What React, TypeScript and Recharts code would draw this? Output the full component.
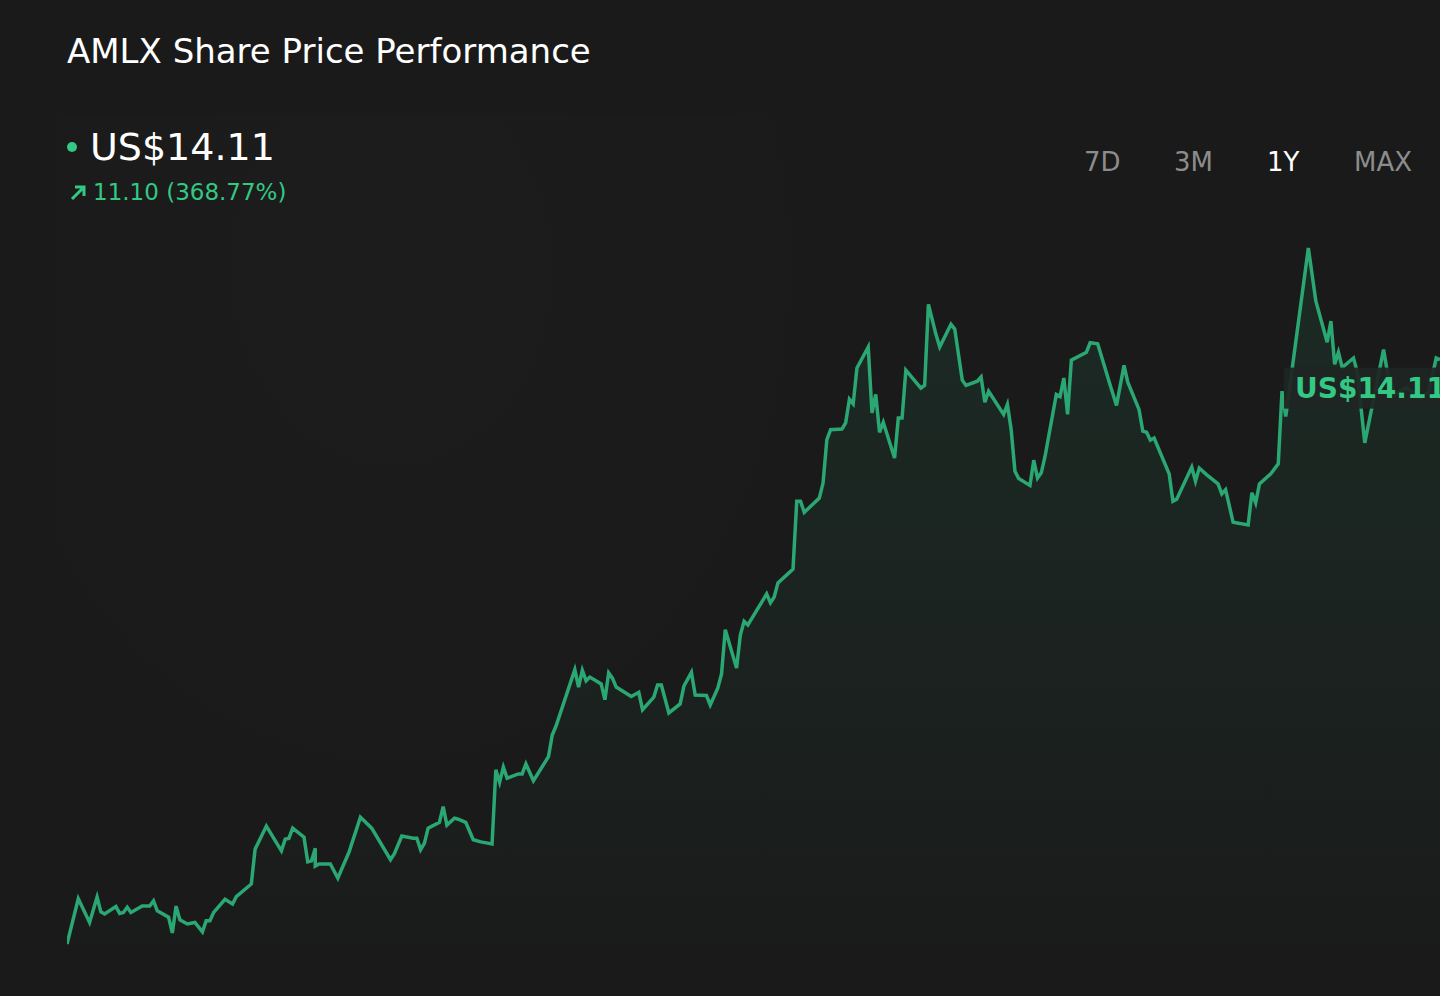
import { Area, AreaChart, ReferenceDot, XAxis, YAxis } from 'recharts';

const TITLE = 'AMLX Share Price Performance';
const LAST_PRICE = 'US$14.11';
const CHANGE_TEXT = '11.10 (368.77%)';
const RANGES = ['7D', '3M', '1Y', 'MAX'];
const ACTIVE_RANGE = '1Y';

// day offset within the 1Y window
const DAYS = [
  0, 3, 6, 8, 9, 10, 13, 14, 15, 16, 17, 20, 22, 23, 24, 27, 28, 29, 30, 32,
  34, 36, 37, 38, 39, 42, 44, 45, 49, 50, 53, 57, 58, 59, 60, 63, 64, 65, 66, 66,
  67, 70, 72, 73, 75, 78, 81, 86, 87, 89, 92, 93, 94, 95, 96, 99, 100, 101, 103, 104,
  106, 108, 110, 113, 114, 115, 116, 117, 120, 121, 122, 124, 128, 129, 130, 135, 136, 137, 138, 139,
  142, 143, 144, 145, 146, 150, 152, 153, 156, 157, 158, 160, 163, 164, 166, 167, 170, 171, 173, 174,
  175, 178, 179, 180, 181, 186, 187, 188, 189, 193, 194, 195, 196, 200, 201, 202, 203, 206, 207, 208,
  209, 210, 213, 214, 215, 216, 217, 220, 221, 222, 223, 225, 227, 228, 229, 231, 232, 235, 236, 238,
  239, 242, 243, 244, 245, 249, 250, 251, 252, 253, 256, 257, 258, 259, 260, 263, 264, 265, 266, 267,
  271, 272, 274, 277, 279, 281, 282, 285, 286, 287, 288, 289, 293, 294, 295, 299, 300, 301, 303, 306,
  307, 308, 310, 314, 315, 316, 317, 320, 322, 323, 324, 330, 332, 335, 336, 337, 338, 339, 342, 343,
  345, 350, 351, 353, 356, 360, 362, 364, 365
];

// close price, US$
const PRICES = [
  3.01, 3.87, 3.42, 3.9, 3.62, 3.58, 3.72, 3.59, 3.61, 3.71, 3.61, 3.73, 3.73, 3.83, 3.64, 3.52, 3.22, 3.73, 3.47, 3.39,
  3.42, 3.24, 3.45, 3.45, 3.61, 3.86, 3.77, 3.91, 4.15, 4.81, 5.25, 4.78, 5.0, 5.02, 5.21, 5.04, 4.57, 4.59, 4.83, 4.49,
  4.53, 4.53, 4.26, 4.43, 4.76, 5.42, 5.21, 4.61, 4.72, 5.06, 5.02, 5.02, 4.8, 4.92, 5.21, 5.32, 5.62, 5.27, 5.4, 5.38,
  5.32, 4.99, 4.95, 4.91, 6.32, 6.08, 6.37, 6.16, 6.24, 6.24, 6.43, 6.11, 6.57, 6.98, 7.15, 8.22, 7.89, 8.21, 8.01, 8.08,
  7.95, 7.65, 8.16, 8.06, 7.89, 7.71, 7.79, 7.46, 7.7, 7.93, 7.93, 7.4, 7.57, 7.91, 8.17, 7.74, 7.73, 7.55, 7.87, 8.14,
  8.98, 8.25, 8.88, 9.14, 9.07, 9.66, 9.49, 9.6, 9.87, 10.13, 11.42, 11.42, 11.21, 11.48, 11.77, 12.59, 12.78, 12.79, 12.91, 13.36,
  13.27, 13.95, 14.35, 13.1, 13.45, 12.73, 12.92, 12.24, 13.0, 13.0, 13.91, 13.74, 13.57, 13.62, 15.16, 14.59, 14.35, 14.78, 14.69, 13.72,
  13.62, 13.7, 13.78, 13.3, 13.51, 13.07, 13.26, 12.78, 11.99, 11.85, 11.72, 12.2, 11.86, 11.96, 12.27, 13.45, 13.41, 13.76, 13.07, 14.1,
  14.25, 14.43, 14.41, 13.7, 13.24, 14.0, 13.68, 13.16, 12.75, 12.73, 12.58, 12.62, 11.94, 11.42, 11.46, 12.07, 11.8, 12.05, 11.92, 11.75,
  11.56, 11.64, 11.02, 10.97, 11.58, 11.39, 11.75, 11.94, 12.13, 13.51, 13.03, 16.23, 15.22, 14.44, 14.84, 14.02, 14.25, 13.96, 14.14, 13.88,
  12.53, 14.3, 13.88, 13.45, 13.58, 13.39, 13.5, 14.14, 14.11
];

const data = DAYS.map((day, i) => ({ day, price: PRICES[i] }));
const last = data[data.length - 1];

const FONT = '"DejaVu Sans", sans-serif';
const GREEN_LINE = '#2aa772';
const GREEN_TEXT = '#33c883';
const RANGE_LEFT = [1084, 1174, 1267, 1354];

function PriceTag(props: any) {
  const { cx, cy } = props;
  if (cx == null || cy == null) return null;
  return (
    <g>
      <rect x={cx - 156} y={cy + 8} width={170} height={41} fill="#1e2622" fillOpacity={0.93} />
      <text x={cx - 145} y={cy + 38} fill={GREEN_TEXT} fontFamily={FONT} fontWeight="bold" fontSize={28}>
        {LAST_PRICE}
      </text>
    </g>
  );
}

export default function App() {
  return (
    <div
      style={{
        position: 'absolute',
        left: 0,
        top: 0,
        width: 1440,
        height: 996,
        background: '#1a1a1a',
        overflow: 'hidden',
        fontFamily: FONT
      }}
    >
      <div
        style={{
          position: 'absolute',
          left: 62,
          top: 115,
          width: 820,
          height: 760,
          background: 'radial-gradient(ellipse at 40% 20%, rgba(255,255,255,0.01) 0%, rgba(255,255,255,0) 70%)'
        }}
      />
      <div style={{ position: 'absolute', left: 67, top: 31, fontSize: 34, color: '#ffffff', whiteSpace: 'nowrap' }}>
        {TITLE}
      </div>

      <div style={{ position: 'absolute', left: 67, top: 124, display: 'flex', alignItems: 'center' }}>
        <span
          style={{ width: 10, height: 10, borderRadius: 5, background: GREEN_TEXT, display: 'inline-block', marginRight: 13 }}
        />
        <span style={{ fontSize: 38, color: '#ffffff', lineHeight: '46px' }}>{LAST_PRICE}</span>
      </div>
      <div
        style={{
          position: 'absolute',
          left: 68,
          top: 179,
          display: 'flex',
          alignItems: 'center',
          color: GREEN_TEXT,
          fontSize: 23
        }}
      >
        <svg width={20} height={20} viewBox="0 0 20 20" style={{ marginRight: 5 }}>
          <path d="M4 17 L16 5 M7 5 L16 5 L16 14" stroke={GREEN_TEXT} strokeWidth={3} fill="none" />
        </svg>
        <span>{CHANGE_TEXT}</span>
      </div>

      {RANGES.map((r, i) => (
        <span
          key={r}
          style={{
            position: 'absolute',
            left: RANGE_LEFT[i],
            top: 146,
            fontSize: 26,
            lineHeight: '32px',
            color: r === ACTIVE_RANGE ? '#ffffff' : '#8c8c8c'
          }}
        >
          {r}
        </span>
      ))}

      <div style={{ position: 'absolute', left: 67, top: 200 }}>
        <AreaChart width={1373} height={796} data={data} margin={{ top: 48, right: 0, bottom: 52, left: 0 }}>
          <defs>
            <linearGradient id="amlxFill" x1="0" y1="0" x2="0" y2="1">
              <stop offset="0%" stopColor={GREEN_LINE} stopOpacity={0.2} />
              <stop offset="100%" stopColor={GREEN_LINE} stopOpacity={0.02} />
            </linearGradient>
          </defs>
          <XAxis type="number" dataKey="day" domain={[0, 365]} hide />
          <YAxis type="number" domain={['dataMin', 'dataMax']} hide />
          <Area
            type="linear"
            dataKey="price"
            stroke={GREEN_LINE}
            strokeWidth={3.5}
            fill="url(#amlxFill)"
            dot={false}
            activeDot={false}
            isAnimationActive={false}
          />
          <ReferenceDot x={last.day} y={last.price} r={0} shape={PriceTag} ifOverflow="visible" />
        </AreaChart>
      </div>
    </div>
  );
}
